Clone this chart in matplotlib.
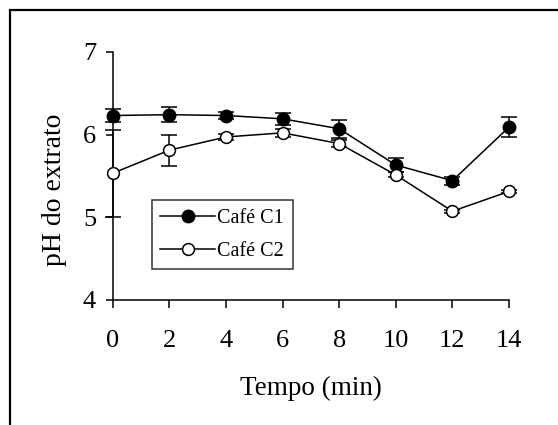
import matplotlib
matplotlib.use("Agg")
import matplotlib.pyplot as plt
from matplotlib.patches import Rectangle
from matplotlib.lines import Line2D

tempo = [0, 2, 4, 6, 8, 10, 12, 14]
c1 = [6.23, 6.24, 6.23, 6.19, 6.07, 5.63, 5.44, 6.09]
c1_err = [0.08, 0.09, 0.04, 0.07, 0.11, 0.09, 0.05, 0.12]
c2 = [5.53, 5.81, 5.97, 6.02, 5.89, 5.51, 5.07, 5.31]
c2_err = [0.53, 0.19, 0.04, 0.05, 0.04, 0.03, 0.02, 0.02]
yticks = [4, 5, 6, 7]
xticks = [0, 2, 4, 6, 8, 10, 12, 14]
labels = ['Café C1', 'Café C2']

plt.rcParams['font.family'] = ['Liberation Serif', 'DejaVu Serif']

W, H = 558, 425
x0, x1, ytop, ybot = 112.7, 509.0, 52.0, 299.5
fig = plt.figure(figsize=(W / 100, H / 100), dpi=100)
ax = fig.add_axes([x0 / W, 1 - ybot / H, (x1 - x0) / W, (ybot - ytop) / H])

ax.errorbar(tempo, c1, yerr=c1_err, color='black', marker='o', markersize=9,
            markerfacecolor='black', markeredgecolor='black', lw=1.1,
            capsize=5.5, elinewidth=1.1, capthick=1.1, clip_on=False, zorder=3)
ax.errorbar(tempo, c2, yerr=c2_err, color='black', marker='o', markersize=8.5,
            markerfacecolor='white', markeredgecolor='black', markeredgewidth=1.1,
            lw=1.1, capsize=5.5, elinewidth=1.1, capthick=1.1, clip_on=False, zorder=3)

ax.set_xlim(0, 14)
ax.set_ylim(4, 7)
ax.set_xticks(xticks)
ax.set_yticks(yticks)
ax.spines['top'].set_visible(False)
ax.spines['right'].set_visible(False)
for s in ('left', 'bottom'):
    ax.spines[s].set_linewidth(1.1)
ax.tick_params(axis='x', direction='out', length=6, width=1.1, pad=16, labelsize=19)
ax.tick_params(axis='y', direction='out', length=5, width=1.1, pad=7, labelsize=19)

ax.set_xlabel('Tempo (min)', fontsize=19.5, labelpad=17)
ax.set_ylabel('pH do extrato', fontsize=20)
ax.yaxis.set_label_coords((67 - x0) / (x1 - x0), (ybot - 190) / (ybot - ytop))

handles = [
    Line2D([], [], color='black', lw=1.1, marker='o', markersize=9,
           markerfacecolor='black', markeredgecolor='black'),
    Line2D([], [], color='black', lw=1.1, marker='o', markersize=8.5,
           markerfacecolor='white', markeredgecolor='black', markeredgewidth=1.1),
]
leg = ax.legend(handles, labels, loc='upper left',
                bbox_to_anchor=((151.5 - x0) / (x1 - x0), (ybot - 200) / (ybot - ytop)),
                frameon=True, fancybox=False, edgecolor='black', fontsize=14.5,
                handlelength=2.75, handletextpad=0.1, borderpad=0.42, labelspacing=0.7,
                borderaxespad=0)
leg.get_frame().set_linewidth(1.1)

fig.add_artist(Rectangle((9.5 / W, -0.5), 2, 1 - 9.5 / H + 0.5, transform=fig.transFigure,
                         fill=False, edgecolor='black', lw=1.6))

fig.savefig('out.png', dpi=100, facecolor='white')
